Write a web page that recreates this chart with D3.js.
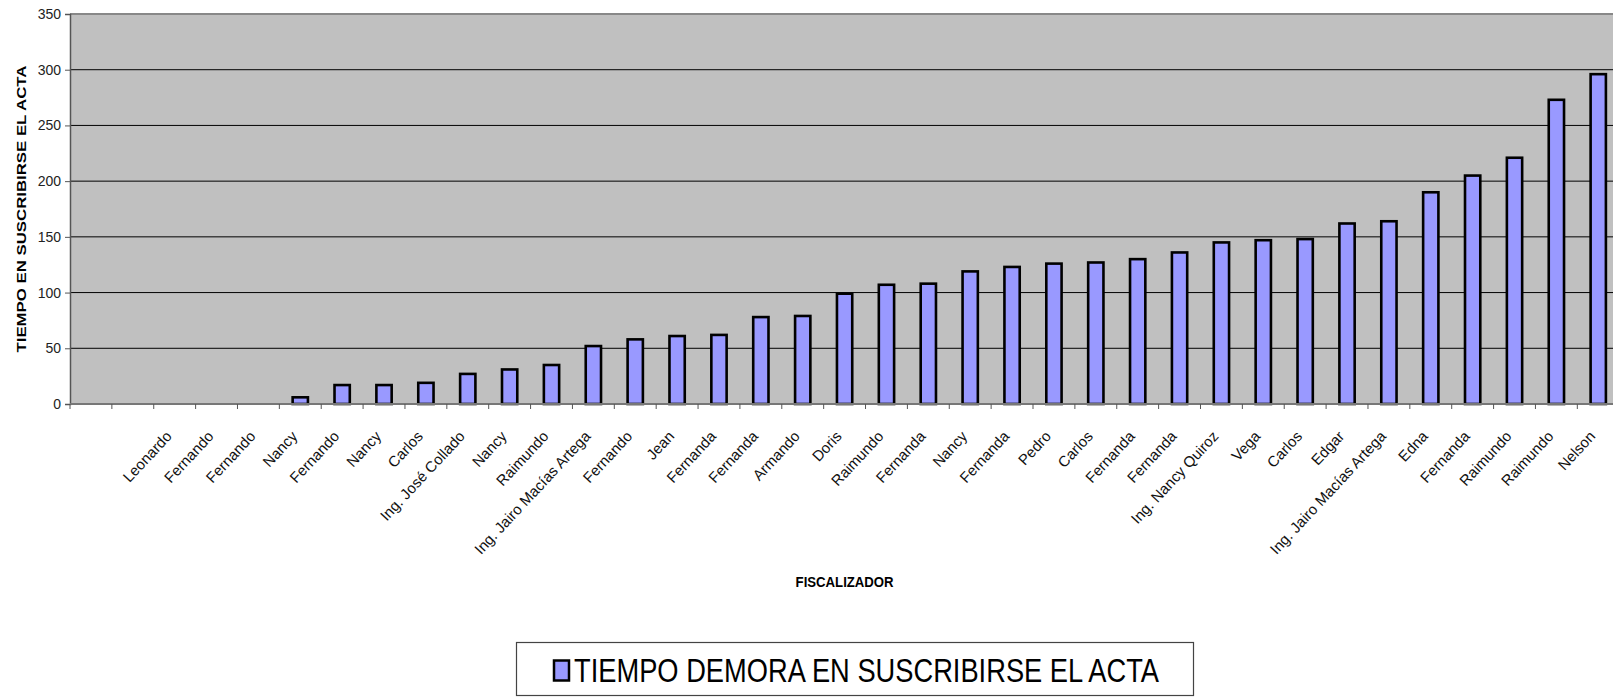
<!DOCTYPE html>
<html>
<head>
<meta charset="utf-8">
<script src="https://cdn.jsdelivr.net/npm/d3@7"></script>
<style>
  html, body { margin: 0; padding: 0; background: #fff; overflow: hidden; }
  svg { display: block; font-family: "Liberation Sans", Arial, sans-serif; }
</style>
</head>
<body>
<svg id="chart" width="1613" height="697"></svg>
<script>
// nombres del fiscalizador (las dos primeras categorias van sin etiqueta)
const fiscalizadores = ["", "", "Leonardo", "Fernando", "Fernando", "Nancy", "Fernando", "Nancy", "Carlos",
  "Ing. José Collado", "Nancy", "Raimundo", "Ing. Jairo Macías Artega", "Fernando", "Jean", "Fernanda",
  "Fernanda", "Armando", "Doris", "Raimundo", "Fernanda", "Nancy", "Fernanda", "Pedro", "Carlos",
  "Fernanda", "Fernanda", "Ing. Nancy Quiroz", "Vega", "Carlos", "Edgar", "Ing. Jairo Macías Artega",
  "Edna", "Fernanda", "Raimundo", "Raimundo", "Nelson"];

// tiempo demora en suscribirse el acta
const tiempos = [0, 0, 0, 0, 0, 6, 17, 17, 19, 27, 31, 35, 52, 58, 61, 62, 78, 79, 99, 107, 108, 119,
  123, 126, 127, 130, 136, 145, 147, 148, 162, 164, 190, 205, 221, 273, 296];

const yTicks = [0, 50, 100, 150, 200, 250, 300, 350];
const serieNombre = "TIEMPO DEMORA EN SUSCRIBIRSE EL ACTA";

const svg = d3.select("#chart");
const mLeft = 70, mTop = 14, mBottom = 404;
const step = 41.87;
const mRight = mLeft + step * tiempos.length;

const x = d3.scaleBand()
  .domain(d3.range(tiempos.length))
  .range([mLeft, mRight]);

const y = d3.scaleLinear()
  .domain([0, 350])
  .range([mBottom, mTop]);

// fondo del area de trazado
svg.append("rect")
  .attr("x", mLeft).attr("y", mTop)
  .attr("width", mRight - mLeft).attr("height", mBottom - mTop)
  .attr("fill", "#c0c0c0");

// lineas de division
svg.append("g")
  .selectAll("line")
  .data(yTicks.filter(t => t > 0 && t < 350))
  .enter().append("line")
  .attr("x1", mLeft).attr("x2", mRight)
  .attr("y1", d => y(d)).attr("y2", d => y(d))
  .attr("stroke", "#000").attr("stroke-width", 1);

// borde superior
svg.append("line")
  .attr("x1", mLeft).attr("x2", mRight)
  .attr("y1", y(350)).attr("y2", y(350))
  .attr("stroke", "#888").attr("stroke-width", 2);

// barras
const bw = x.bandwidth() * 0.365;
svg.append("g")
  .selectAll("rect")
  .data(tiempos.map((v, i) => ({ i, v })).filter(d => d.v > 0))
  .enter().append("rect")
  .attr("x", d => x(d.i) + (x.bandwidth() - bw) / 2)
  .attr("y", d => y(d.v))
  .attr("width", bw)
  .attr("height", d => y(0) - y(d.v))
  .attr("fill", "#9999ff")
  .attr("stroke", "#000")
  .attr("stroke-width", 2.6);

// eje Y
const yAxis = svg.append("g")
  .attr("transform", `translate(${mLeft},0)`)
  .call(d3.axisLeft(y).tickValues(yTicks).tickSize(5).tickPadding(4));
yAxis.select(".domain").attr("stroke", "#555").attr("stroke-width", 1.5);
yAxis.selectAll(".tick line").attr("stroke", "#555");
yAxis.selectAll("text")
  .attr("font-size", 14)
  .attr("font-family", "Liberation Sans, Arial, sans-serif")
  .attr("fill", "#222");

// eje X: linea y marcas entre categorias
svg.append("line")
  .attr("x1", mLeft).attr("x2", mRight)
  .attr("y1", mBottom).attr("y2", mBottom)
  .attr("stroke", "#777").attr("stroke-width", 2);

svg.append("g")
  .selectAll("line")
  .data(d3.range(tiempos.length + 1))
  .enter().append("line")
  .attr("x1", d => mLeft + d * x.step()).attr("x2", d => mLeft + d * x.step())
  .attr("y1", mBottom).attr("y2", mBottom + 5)
  .attr("stroke", "#555");

// etiquetas rotadas
svg.append("g")
  .selectAll("text")
  .data(fiscalizadores)
  .enter().append("text")
  .attr("transform", (d, i) => `translate(${x(i) + x.bandwidth() / 2 - 2},437) rotate(-47)`)
  .attr("text-anchor", "end")
  .attr("font-size", 15)
  .attr("fill", "#111")
  .text(d => d);

// titulos de ejes
svg.append("text")
  .attr("transform", `translate(26,${(mTop + mBottom) / 2}) rotate(-90)`)
  .attr("text-anchor", "middle")
  .attr("font-size", 13)
  .attr("font-weight", "bold")
  .attr("textLength", 287)
  .attr("lengthAdjust", "spacingAndGlyphs")
  .text("TIEMPO EN SUSCRIBIRSE EL ACTA");

svg.append("text")
  .attr("x", (mLeft + mRight) / 2)
  .attr("y", 587)
  .attr("text-anchor", "middle")
  .attr("font-size", 14)
  .attr("font-weight", "bold")
  .attr("textLength", 98)
  .attr("lengthAdjust", "spacingAndGlyphs")
  .text("FISCALIZADOR");

// leyenda
const legend = svg.append("g");
legend.append("rect")
  .attr("x", 516.5).attr("y", 642.5)
  .attr("width", 677).attr("height", 53)
  .attr("fill", "#fff")
  .attr("stroke", "#444").attr("stroke-width", 1.2);
legend.append("rect")
  .attr("x", 554).attr("y", 660.5)
  .attr("width", 15).attr("height", 20)
  .attr("fill", "#9999ff")
  .attr("stroke", "#000").attr("stroke-width", 2.5);
legend.append("text")
  .attr("x", 574).attr("y", 681.5)
  .attr("font-size", 34)
  .attr("textLength", 585)
  .attr("lengthAdjust", "spacingAndGlyphs")
  .attr("fill", "#000")
  .text(serieNombre);
</script>
</body>
</html>
